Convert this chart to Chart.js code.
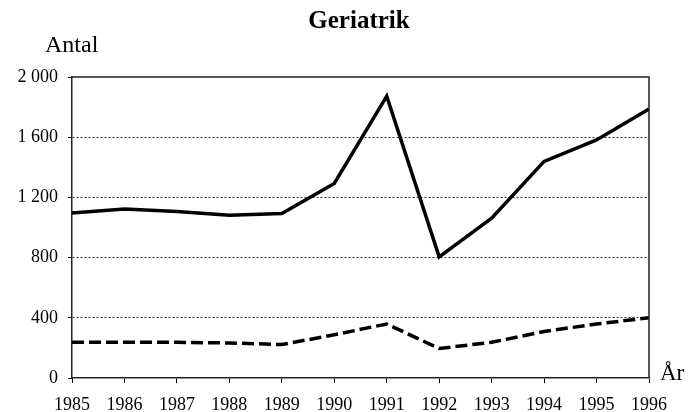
<!DOCTYPE html>
<html>
<head>
<meta charset="utf-8">
<script src="https://cdn.jsdelivr.net/npm/chart.js@4/dist/chart.umd.min.js"></script>
<style>
  body { margin: 0; background: #fff; }
  #wrap { width: 690px; height: 412px; position: relative; }
</style>
</head>
<body>
<div id="wrap"><canvas id="geriChart"></canvas></div>
<script>
// Years on the x axis
const years = ['1985', '1986', '1987', '1988', '1989', '1990', '1991', '1992', '1993', '1994', '1995', '1996'];

// Solid line (upper series)
const solidValues = [1096, 1123, 1107, 1081, 1093, 1293, 1873, 805, 1062, 1439, 1582, 1788];

// Dashed line (lower series)
const dashedValues = [237, 237, 237, 233, 222, 287, 359, 196, 237, 309, 359, 400];

// Y tick labels, 0..2000 step 400
const yTickLabels = ['0', '400', '800', '1 200', '1 600', '2 000'];

const chartTitle = 'Geriatrik';
const yAxisText = 'Antal';
const xAxisText = 'År';

const serif = '"Liberation Serif", "Times New Roman", serif';

// draws title, axis captions and the top/right frame
const extrasPlugin = {
    id: 'extras',
    afterDraw(chart) {
        const ctx = chart.ctx;
        const area = chart.chartArea;
        ctx.save();
        ctx.strokeStyle = '#222';
        ctx.lineWidth = 1.5;
        ctx.beginPath();
        ctx.moveTo(area.left, area.top);
        ctx.lineTo(area.right, area.top);
        ctx.lineTo(area.right, area.bottom);
        ctx.stroke();

        ctx.fillStyle = '#000';
        ctx.textBaseline = 'alphabetic';
        ctx.textAlign = 'center';
        ctx.font = 'bold 25px ' + serif;
        ctx.fillText(chartTitle, 359, 28);

        ctx.textAlign = 'left';
        ctx.font = '24px ' + serif;
        ctx.fillText(yAxisText, 45, 52);

        ctx.font = '23px ' + serif;
        ctx.fillText(xAxisText, 660, 380);
        ctx.restore();
    }
};

const ctx = document.getElementById('geriChart').getContext('2d');

new Chart(ctx, {
    type: 'line',
    data: {
        labels: years,
        datasets: [
            {
                data: solidValues,
                borderColor: '#000',
                borderWidth: 3.5,
                tension: 0,
                pointRadius: 0,
                fill: false
            },
            {
                data: dashedValues,
                borderColor: '#000',
                borderWidth: 3.5,
                borderDash: [12, 5],
                tension: 0,
                pointRadius: 0,
                fill: false
            }
        ]
    },
    options: {
        responsive: true,
        maintainAspectRatio: false,
        animation: false,
        layout: {
            padding: { top: 77, right: 41, bottom: 0, left: 0 }
        },
        plugins: {
            legend: { display: false },
            title: { display: false },
            tooltip: { enabled: false }
        },
        scales: {
            x: {
                offset: false,
                afterFit: function(scale) { scale.height = 34; },
                grid: {
                    drawOnChartArea: false,
                    tickLength: 5,
                    tickColor: '#000'
                },
                border: { display: true, color: '#222', width: 1.5 },
                ticks: {
                    color: '#000',
                    padding: 11,
                    maxRotation: 0,
                    autoSkip: false,
                    font: { family: serif, size: 18 }
                }
            },
            y: {
                min: 0,
                max: 2000,
                afterFit: function(scale) { scale.width = 72; },
                grid: {
                    color: function(c) {
                        if (c.tick && (c.tick.value === 0 || c.tick.value === 2000)) return 'rgba(0,0,0,0)';
                        return '#333';
                    },
                    lineWidth: 1,
                    tickLength: 4,
                    tickColor: '#000'
                },
                border: { display: true, color: '#222', width: 1.5, dash: [2, 2] },
                ticks: {
                    stepSize: 400,
                    color: '#000',
                    padding: 10,
                    font: { family: serif, size: 18 },
                    callback: function(value, index) {
                        return yTickLabels[index];
                    }
                }
            }
        }
    },
    plugins: [extrasPlugin]
});
</script>
</body>
</html>
